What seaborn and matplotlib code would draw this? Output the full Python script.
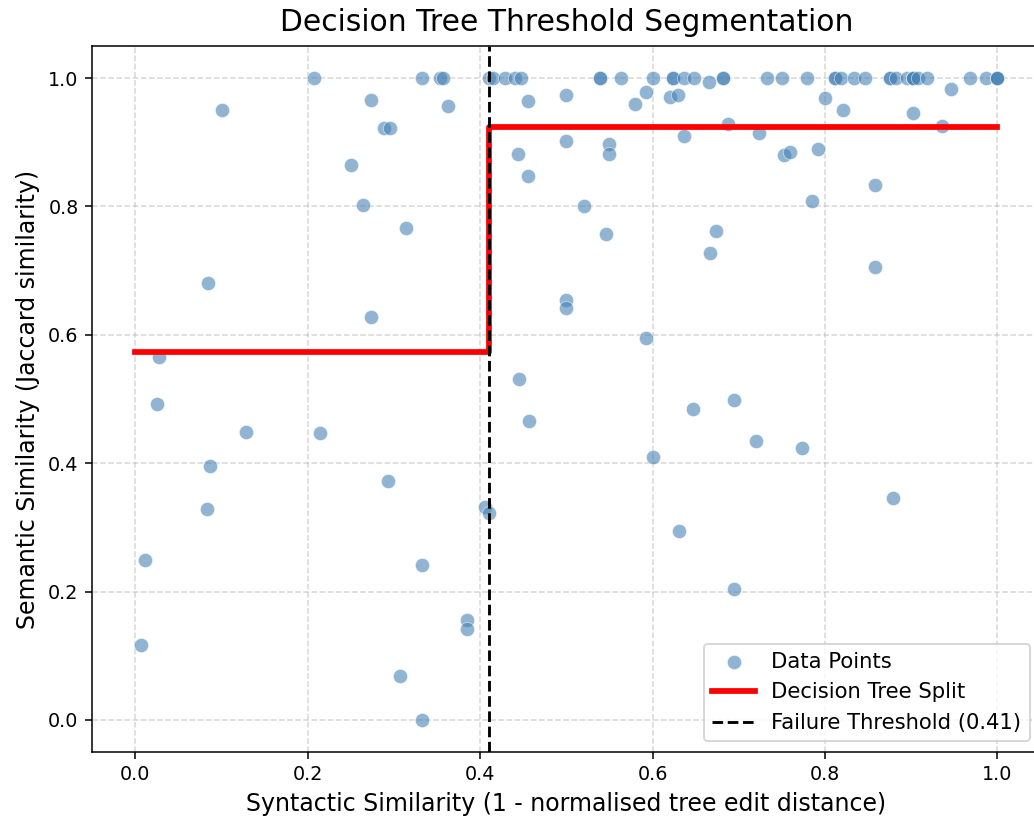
import numpy as np
import pandas as pd
import matplotlib
matplotlib.use("Agg")
import matplotlib.pyplot as plt
import seaborn as sns

# ---- data ----
syntactic = [
    0.208, 0.333, 0.353, 0.357, 0.274, 0.101, 0.363, 0.289, 0.296, 0.250,
    0.264, 0.314, 0.085, 0.274, 0.028, 0.025, 0.128, 0.214, 0.087, 0.293,
    0.083, 0.406, 0.011, 0.333, 0.385, 0.385, 0.007, 0.307, 0.333, 0.410,
    # top row (y = 1.0)
    0.410, 0.415, 0.429, 0.441, 0.448, 0.539, 0.539, 0.564, 0.601, 0.624,
    0.624, 0.636, 0.648, 0.682, 0.682, 0.733, 0.750, 0.779, 0.812, 0.812,
    0.819, 0.834, 0.846, 0.875, 0.875, 0.882, 0.895, 0.902, 0.902, 0.902,
    0.908, 0.918, 0.968, 0.987, 1.000, 1.000, 1.000,
    # right region
    0.666, 0.456, 0.500, 0.592, 0.580, 0.620, 0.629, 0.688, 0.723, 0.637,
    0.500, 0.550, 0.550, 0.444, 0.456, 0.520, 0.546, 0.674, 0.667, 0.500,
    0.500, 0.592, 0.445, 0.457, 0.647, 0.694, 0.720, 0.601, 0.631, 0.694,
    0.946, 0.800, 0.821, 0.902, 0.936, 0.753, 0.759, 0.792, 0.858, 0.785,
    0.858, 0.773, 0.879,
]
semantic = [
    1.000, 1.000, 1.000, 1.000, 0.966, 0.950, 0.957, 0.923, 0.923, 0.864,
    0.802, 0.766, 0.680, 0.628, 0.566, 0.492, 0.449, 0.447, 0.395, 0.373,
    0.328, 0.331, 0.249, 0.242, 0.155, 0.142, 0.116, 0.069, 0.000, 0.323,
    1.000, 1.000, 1.000, 1.000, 1.000, 1.000, 1.000, 1.000, 1.000, 1.000,
    1.000, 1.000, 1.000, 1.000, 1.000, 1.000, 1.000, 1.000, 1.000, 1.000,
    1.000, 1.000, 1.000, 1.000, 1.000, 1.000, 1.000, 1.000, 1.000, 1.000,
    1.000, 1.000, 1.000, 1.000, 1.000, 1.000, 1.000,
    0.994, 0.964, 0.974, 0.979, 0.960, 0.971, 0.974, 0.928, 0.915, 0.909,
    0.902, 0.898, 0.881, 0.881, 0.847, 0.800, 0.757, 0.762, 0.727, 0.654,
    0.642, 0.595, 0.531, 0.466, 0.485, 0.499, 0.435, 0.409, 0.295, 0.204,
    0.983, 0.969, 0.950, 0.946, 0.926, 0.880, 0.885, 0.890, 0.833, 0.809,
    0.706, 0.423, 0.345,
]

split_x = [0.0, 0.41, 0.41, 1.0]
split_y = [0.573, 0.573, 0.924, 0.924]
threshold = 0.41

df = pd.DataFrame({"syntactic": syntactic, "semantic": semantic})

DPI = 138
W, H = 1034, 821
fig = plt.figure(figsize=(W / DPI, H / DPI), dpi=DPI)
# the reference crops the right spine just outside the image
ax = fig.add_axes([92 / W, 69 / H, 948.6 / W, 706 / H])

sns.scatterplot(data=df, x="syntactic", y="semantic", ax=ax, s=55,
                color="steelblue", alpha=0.6, edgecolor="white",
                linewidth=0.4, label="Data Points", zorder=3)
ax.plot(split_x, split_y, color="red", lw=3, label="Decision Tree Split",
        zorder=4)
ax.axvline(threshold, color="black", ls="--", lw=1.5,
           label=f"Failure Threshold ({threshold})", zorder=5)

ax.set_xlim(-0.05, 1.05)
ax.set_ylim(-0.05, 1.05)
ax.set_xticks([0.0, 0.2, 0.4, 0.6, 0.8, 1.0])
ax.set_yticks([0.0, 0.2, 0.4, 0.6, 0.8, 1.0])
ax.tick_params(labelsize=10)
ax.grid(True, ls="--", color="#b0b0b0", alpha=0.5, lw=0.8)
ax.set_axisbelow(True)

ax.set_title("Decision Tree Threshold Segmentation", fontsize=15.5, pad=8)
ax.set_xlabel("Syntactic Similarity (1 - normalised tree edit distance)",
              fontsize=12.3)
ax.set_ylabel("Semantic Similarity (Jaccard similarity)", fontsize=12.3)
ax.legend(loc="lower right", fontsize=11)

fig.savefig("out.png", dpi=DPI)
